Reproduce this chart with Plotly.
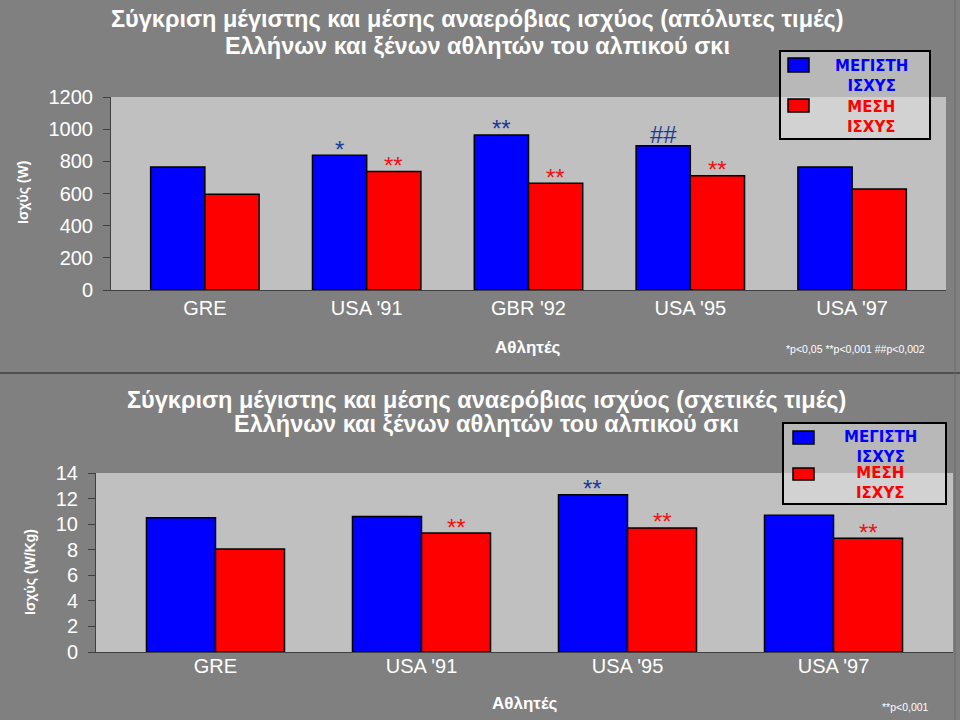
import plotly.graph_objects as go

W, H = 960, 720

# ---------------- data ----------------
cats_abs = ["GRE", "USA '91", "GBR '92", "USA '95", "USA '97"]
max_abs = [765, 838, 964, 897, 765]
mean_abs = [595, 737, 663, 711, 628]
sig_max_abs = ["", "*", "**", "##", ""]
sig_mean_abs = ["", "**", "**", "**", ""]

cats_rel = ["GRE", "USA '91", "USA '95", "USA '97"]
max_rel = [10.5, 10.6, 12.3, 10.7]
mean_rel = [8.05, 9.3, 9.7, 8.9]
sig_max_rel = ["", "", "**", ""]
sig_mean_rel = ["", "**", "**", "**"]

title_abs = ["Σύγκριση μέγιστης και μέσης αναερόβιας ισχύος (απόλυτες τιμές)",
             "Ελλήνων και ξένων αθλητών του αλπικού σκι"]
title_rel = ["Σύγκριση μέγιστης και μέσης αναερόβιας ισχύος (σχετικές τιμές)",
             "Ελλήνων και ξένων αθλητών του αλπικού σκι"]
ylab_abs = "Ισχύς (W)"
ylab_rel = "Ισχύς (W/Kg)"
xlab = "Αθλητές"
note_abs = "*p<0,05 **p<0,001 ##p<0,002"
note_rel = "**p<0,001"
leg_max = "ΜΕΓΙΣΤΗ<br>ΙΣΧΥΣ"
leg_mean = "ΜΕΣΗ<br>ΙΣΧΥΣ"

# ---------------- style ----------------
FONT = "Liberation Sans, Arial, sans-serif"
LEGFONT = "DejaVu Sans, Verdana, sans-serif"
BLUE = "#0000ff"
RED = "#ff0000"
STAR_BLUE = "#1a3a9a"
STAR_RED = "#ee1111"
OUTER = "#808080"
PLOT_BG = "#c0c0c0"
AXIS = "#404040"
BARGAP = 0.33

# plot-area boxes in pixels (x0, x1, ytop, ybottom) and x ranges
BOX1 = (111, 946, 97, 290)
BOX2 = (96, 953, 473, 652)
XR1 = [-0.58, len(cats_abs) - 0.42]
XR2 = [-0.58, len(cats_rel) - 0.42]


def px(x):
    return x / W


def py(y):
    return 1 - y / H


def bar(x, y, color, xa, ya):
    return go.Bar(
        x=x, y=y, xaxis=xa, yaxis=ya,
        marker=dict(color=color, line=dict(color="black", width=1.5)),
        showlegend=False, hoverinfo="x+y",
    )


fig = go.Figure()
fig.add_trace(bar(cats_abs, max_abs, BLUE, "x", "y"))
fig.add_trace(bar(cats_abs, mean_abs, RED, "x", "y"))
fig.add_trace(bar(cats_rel, max_rel, BLUE, "x2", "y2"))
fig.add_trace(bar(cats_rel, mean_rel, RED, "x2", "y2"))

xcommon = dict(type="category", showline=True, linecolor=AXIS, linewidth=1,
               ticks="", showgrid=False, zeroline=False, automargin=False,
               tickfont=dict(size=20, color="white", family=FONT))
ycommon = dict(showline=True, linecolor=AXIS, linewidth=1, ticks="outside",
               ticklen=7, tickcolor=AXIS, showgrid=False, zeroline=False,
               automargin=False,
               tickfont=dict(size=20, color="white", family=FONT),
               ticklabelstandoff=6)

fig.update_layout(
    width=W, height=H,
    margin=dict(l=0, r=0, t=0, b=0),
    paper_bgcolor=OUTER, plot_bgcolor=PLOT_BG,
    barmode="group", bargap=BARGAP, bargroupgap=0,
    font=dict(family=FONT, color="white"),
    xaxis=dict(xcommon, domain=[px(BOX1[0]), px(BOX1[1])], range=XR1,
               anchor="y", ticklabelstandoff=0),
    yaxis=dict(ycommon, domain=[py(BOX1[3]), py(BOX1[2])], range=[0, 1200],
               dtick=200, anchor="x"),
    xaxis2=dict(xcommon, domain=[px(BOX2[0]), px(BOX2[1])], range=XR2,
                anchor="y2", ticklabelstandoff=-4),
    yaxis2=dict(ycommon, domain=[py(BOX2[3]), py(BOX2[2])], range=[0, 14],
                dtick=2, anchor="x2"),
)

ann = []


def txt(x, y, s, size, color="white", bold=False, angle=0, xanchor="center",
        family=FONT):
    if bold:
        s = "<b>" + s + "</b>"
    ann.append(dict(x=px(x), y=py(y), xref="paper", yref="paper", text=s,
                    showarrow=False, xanchor=xanchor, yanchor="middle",
                    textangle=angle,
                    font=dict(size=size, color=color, family=family)))


# significance markers, anchored to the bar values
def sig_marks(cats, vals, sigs, side, color, xref, yref, box, xr):
    cat_px = (box[1] - box[0]) / (xr[1] - xr[0])
    half = cat_px * (1 - BARGAP) / 4
    for c, v, s in zip(cats, vals, sigs):
        if not s:
            continue
        ann.append(dict(x=c, y=v, xref=xref, yref=yref, text=s,
                        showarrow=False, xanchor="center", yanchor="middle",
                        xshift=side * half,
                        yshift=11 if "#" in s else 6,
                        font=dict(size=24, color=color, family=FONT)))


sig_marks(cats_abs, max_abs, sig_max_abs, -1, STAR_BLUE, "x", "y", BOX1, XR1)
sig_marks(cats_abs, mean_abs, sig_mean_abs, 1, STAR_RED, "x", "y", BOX1, XR1)
sig_marks(cats_rel, max_rel, sig_max_rel, -1, STAR_BLUE, "x2", "y2", BOX2, XR2)
sig_marks(cats_rel, mean_rel, sig_mean_rel, 1, STAR_RED, "x2", "y2", BOX2, XR2)

# titles
txt(477, 19, title_abs[0], 23.5, bold=True)
txt(477, 46, title_abs[1], 23.5, bold=True)
txt(486, 400, title_rel[0], 23.5, bold=True)
txt(486, 424, title_rel[1], 23.5, bold=True)
# axis titles
txt(23, 193, ylab_abs, 14, bold=True, angle=-90)
txt(30, 572, ylab_rel, 14, bold=True, angle=-90)
txt(528, 347, xlab, 17, bold=True)
txt(525, 703, xlab, 17, bold=True)
# notes
txt(855, 349, note_abs, 10.5)
txt(905, 707, note_rel, 10.5)

shapes = []


def legend(x0, y0, x1, y1, sq_x0, sq_x1, sq_b, sq_r, text_x, yb, yr):
    shapes.append(dict(type="rect", xref="paper", yref="paper",
                       x0=px(x0), x1=px(x1), y0=py(y1), y1=py(y0),
                       fillcolor="rgba(222,222,222,0.6)",
                       line=dict(color="black", width=2)))
    for (ya, ybb), col in ((sq_b, BLUE), (sq_r, RED)):
        shapes.append(dict(type="rect", xref="paper", yref="paper",
                           x0=px(sq_x0), x1=px(sq_x1), y0=py(ybb), y1=py(ya),
                           fillcolor=col, line=dict(color="black", width=1.5)))
    txt(text_x, yb, leg_max, 15, color=BLUE, bold=True, family=LEGFONT)
    txt(text_x, yr, leg_mean, 15, color=RED, bold=True, family=LEGFONT)


legend(780, 51, 930, 139, 788, 809, (58, 72), (99, 112), 871, 76, 117)
legend(783, 423, 946, 504, 793, 814, (431, 444), (468, 480), 880, 447, 483)

# panel separator and frame lines
shapes.append(dict(type="line", xref="paper", yref="paper", x0=0, x1=1,
                   y0=py(373), y1=py(373), line=dict(color="#505050", width=2)))
shapes.append(dict(type="line", xref="paper", yref="paper", x0=px(955), x1=px(955),
                   y0=py(720), y1=py(0), line=dict(color="#6a6a6a", width=1)))

fig.update_layout(annotations=ann, shapes=shapes)

fig.write_html("out.html",
               config={"displayModeBar": False},
               post_script="document.body.style.margin='0';"
                           "document.body.style.overflow='hidden';")
